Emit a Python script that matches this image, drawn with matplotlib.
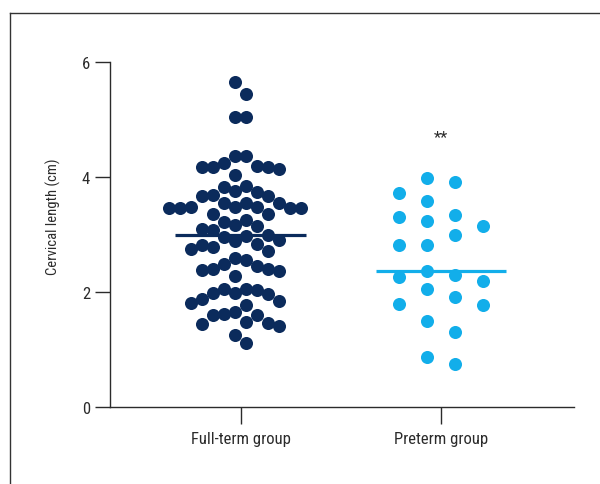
import matplotlib
matplotlib.use('Agg')
import matplotlib.pyplot as plt
import numpy as np
from matplotlib import font_manager as fm
from matplotlib.lines import Line2D

categories = ["Full-term group", "Preterm group"]
full_term = [5.65, 5.45, 5.04, 5.04, 4.37, 4.37, 4.24, 4.20, 4.18, 4.18, 4.18, 4.14, 4.04,
             3.85, 3.82, 3.76, 3.74, 3.69, 3.67, 3.67, 3.55, 3.54, 3.54,
             3.48, 3.47, 3.47, 3.46, 3.46, 3.46, 3.46, 3.36, 3.36, 3.25, 3.22,
             3.17, 3.14, 3.10, 3.07, 3.00, 2.98, 2.95, 2.91, 2.88, 2.83, 2.81,
             2.78, 2.75, 2.72, 2.60, 2.56, 2.49, 2.46, 2.40, 2.40, 2.39, 2.36, 2.28,
             2.06, 2.05, 2.04, 1.99, 1.98, 1.97, 1.88, 1.84, 1.81, 1.77,
             1.66, 1.62, 1.60, 1.60, 1.48, 1.46, 1.44, 1.41, 1.26, 1.11]
preterm = [3.98, 3.91, 3.73, 3.59, 3.34, 3.30, 3.24, 3.14, 2.99, 2.82, 2.81,
           2.37, 2.30, 2.26, 2.20, 2.06, 1.92, 1.79, 1.78, 1.49, 1.31, 0.87, 0.74]
y_ticks = [0, 2, 4, 6]
y_label = "Cervical length (cm)"
significance = "**"
sig_y = 4.70

colors = ["#0b2b5c", "#12aeea"]
text_color = "#2b2b2b"

# font selection: prefer a narrow face like the reference
names = {f.name for f in fm.fontManager.ttflist}
fam = None
for cand in ["Liberation Sans Narrow", "Roboto Condensed", "Open Sans Condensed", "DejaVu Sans Condensed"]:
    if cand in names:
        fam = [cand, "DejaVu Sans"]
        break
if fam is None:
    fam = ["Roboto", "DejaVu Sans"] if "Roboto" in names else ["DejaVu Sans"]
plt.rcParams['font.family'] = fam

W, H = 600, 485
fig = plt.figure(figsize=(W / 100, H / 100), dpi=100)
ax_left, ax_right, ax_top, ax_bot = 109.5, 574, 63, 408
ax = fig.add_axes([ax_left / W, 1 - ax_bot / H, (ax_right - ax_left) / W, (ax_bot - ax_top) / H])

xpos = [1, 2]
xpix_tick = [240.5, 441]
px_per_x = (xpix_tick[1] - xpix_tick[0]) / (xpos[1] - xpos[0])
xlim = (xpos[0] - (xpix_tick[0] - ax_left) / px_per_x, xpos[1] + (ax_right - xpix_tick[1]) / px_per_x)
ax.set_xlim(*xlim)
ax.set_ylim(0, 6)
px_per_y = (ax_bot - ax_top) / 6.0


def swarm_offsets(values, step_px, min_gap_px):
    vals = np.asarray(values, dtype=float)
    order = np.argsort(-vals, kind="stable")
    placed = {}
    offsets = np.zeros(len(vals))
    cols = []
    for k in range(60):
        cols += [-(k + 0.5), (k + 0.5)]
    for i in order:
        y = vals[i] * px_per_y
        for c in cols:
            if all(abs(y - yy) >= min_gap_px for yy in placed.get(c, [])):
                placed.setdefault(c, []).append(y)
                offsets[i] = c * step_px / px_per_x
                break
    return offsets


groups = [full_term, preterm]
steps = [11.0, 27.7]
gaps = [15.5, 17.5]
for xp, vals, col, st, gp in zip(xpos, groups, colors, steps, gaps):
    offs = swarm_offsets(vals, st, gp)
    ax.plot(xp + offs, vals, 'o', ms=9.4, mfc=col, mec='none', zorder=3, clip_on=False)
    med = float(np.median(vals))
    ax.hlines(med, xp - 0.325, xp + 0.325, color=col, lw=2.3, zorder=4)

ax.text(xpos[1], sig_y, significance, ha='center', va='center', fontsize=12, color=text_color)

for s in ['top', 'right']:
    ax.spines[s].set_visible(False)
for s in ['left', 'bottom']:
    ax.spines[s].set_color(text_color)
    ax.spines[s].set_linewidth(1.0)

ax.set_yticks(y_ticks)
ax.set_yticklabels([str(t) for t in y_ticks])
ax.set_xticks(xpos)
ax.set_xticklabels(categories)
ax.tick_params(axis='y', length=11, width=1.0, color=text_color, labelcolor=text_color, labelsize=12, pad=3)
ax.tick_params(axis='x', length=12.5, width=1.0, color=text_color, labelcolor=text_color, labelsize=12, pad=5)

fig.text(53 / W, 1 - 217 / H, y_label, rotation=90, ha='center', va='center', fontsize=10.5, color=text_color)

# outer frame (cropped box)
fig.add_artist(Line2D([9.5 / W, 9.5 / W], [0, 1 - 14 / H], transform=fig.transFigure, color="#333333", lw=1.0))
fig.add_artist(Line2D([9.5 / W, 1], [1 - 14 / H, 1 - 14 / H], transform=fig.transFigure, color="#333333", lw=1.0))

fig.savefig("out.png", dpi=100)
